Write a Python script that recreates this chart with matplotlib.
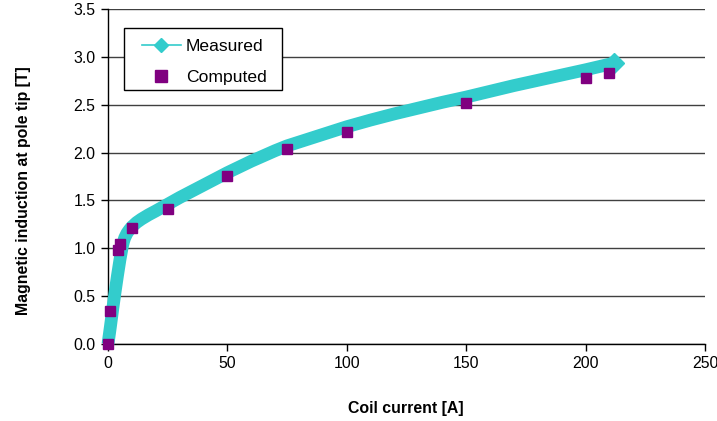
import matplotlib
matplotlib.use("Agg")
import matplotlib.pyplot as plt
from matplotlib.lines import Line2D
from matplotlib.patches import Rectangle

plt.rcParams['font.family'] = ['Liberation Sans', 'DejaVu Sans']

# Measured B-H curve: coil current [A] vs induction at pole tip [T]
measured_current = [0, 1, 2, 3, 4, 5, 5.5, 6, 6.5, 7, 8, 9, 10, 12, 14, 17, 20, 25,
                    30, 35, 40, 45, 50, 55, 60, 65, 70, 75, 80, 90, 100, 110, 120,
                    130, 140, 150, 160, 170, 180, 190, 200, 212]
measured_b = [0, 0.18, 0.37, 0.55, 0.72, 0.88, 0.95, 1.02, 1.07, 1.11, 1.16, 1.195,
              1.225, 1.27, 1.305, 1.35, 1.39, 1.46, 1.53, 1.595, 1.66, 1.725, 1.79,
              1.85, 1.91, 1.965, 2.02, 2.07, 2.11, 2.19, 2.27, 2.34, 2.405, 2.465,
              2.525, 2.58, 2.64, 2.70, 2.755, 2.81, 2.865, 2.935]

# Computed values
computed_current = [0, 1, 4, 5, 10, 25, 50, 75, 100, 150, 200, 210]
computed_b = [0.0, 0.35, 0.98, 1.04, 1.21, 1.41, 1.76, 2.04, 2.22, 2.52, 2.78, 2.83]

x_ticks = [0, 50, 100, 150, 200, 250]
y_ticks = [0.0, 0.5, 1.0, 1.5, 2.0, 2.5, 3.0, 3.5]
series_names = ['Measured', 'Computed']

teal = '#33CCCC'
purple = '#800080'

W, H = 717, 421
fig = plt.figure(figsize=(W / 100, H / 100), dpi=100)
ax = fig.add_axes([108 / W, 1 - 344 / H, (705 - 108) / W, (344 - 9) / H])

ax.plot(measured_current, measured_b, color=teal, lw=9.2, solid_capstyle='butt',
        solid_joinstyle='round', marker='D', markersize=10, markevery=[-1],
        markeredgecolor=teal, zorder=3, clip_on=False)
ax.plot(computed_current, computed_b, linestyle='none', marker='s', markersize=7.8,
        color=purple, markeredgecolor=purple, zorder=4, clip_on=False)

ax.set_xlim(0, 250)
ax.set_ylim(0, 3.5)
ax.set_xticks(x_ticks)
ax.set_yticks(y_ticks)
ax.set_yticklabels([f'{v:.1f}' for v in y_ticks])
ax.yaxis.grid(True, color='#404040', lw=1.0)
ax.set_axisbelow(True)
for s in ('top', 'right'):
    ax.spines[s].set_visible(False)
for s in ('left', 'bottom'):
    ax.spines[s].set_color('black')
    ax.spines[s].set_linewidth(1.0)
ax.tick_params(axis='both', direction='out', length=5, width=1, labelsize=11.4,
               colors='black', pad=4)

ax.set_xlabel('Coil current [A]', fontsize=11.4, fontweight='bold', va='center')
ax.xaxis.set_label_coords(0.4983, (344 - 408) / 335)
ax.set_ylabel('Magnetic induction at pole tip [T]', fontsize=11.4,
              fontweight='bold', va='center')
ax.yaxis.set_label_coords((24 - 108) / 597, (344 - 190.5) / 335)

# Legend box, drawn in figure pixel coordinates (origin at top-left)
def fx(px):
    return px / W


def fy(py):
    return 1 - py / H


fig.patches.append(Rectangle((fx(124), fy(90)), fx(282) - fx(124), fy(28) - fy(90),
                             transform=fig.transFigure, facecolor='white',
                             edgecolor='black', lw=1.0, zorder=5))
rows_y = [45, 76]
fig.add_artist(Line2D([fx(142), fx(181)], [fy(rows_y[0])] * 2, color=teal, lw=1.2,
                      transform=fig.transFigure, zorder=6))
fig.add_artist(Line2D([fx(161)], [fy(rows_y[0])], marker='D', markersize=7.5,
                      color=teal, transform=fig.transFigure, zorder=6))
fig.add_artist(Line2D([fx(161)], [fy(rows_y[1])], marker='s', markersize=8,
                      color=purple, transform=fig.transFigure, zorder=6))
for name, ry in zip(series_names, rows_y):
    fig.text(fx(186), fy(ry), name, fontsize=12.6, ha='left', va='center_baseline',
             zorder=7)

fig.savefig('out.png', dpi=100)
